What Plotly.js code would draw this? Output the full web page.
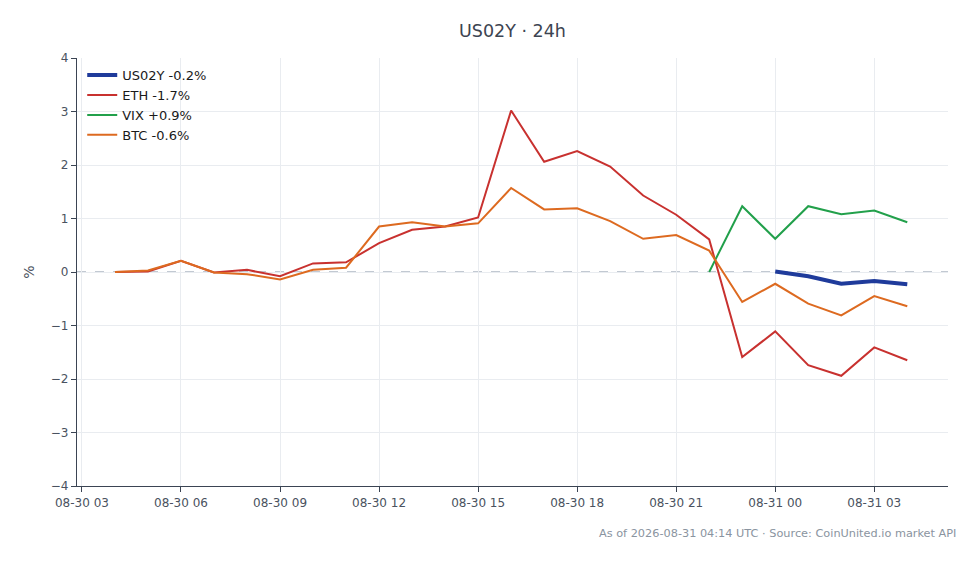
<!DOCTYPE html>
<html>
<head>
<meta charset="utf-8">
<script src="https://cdn.plot.ly/plotly-3.0.1.min.js"></script>
<style>
  html, body { margin: 0; padding: 0; background: #fff; }
  #chart { width: 980px; height: 564px; }
</style>
</head>
<body>
<div id="chart"></div>
<script>
// hourly timestamps, 24h window
const hours = [
  "2026-08-30 04:00", "2026-08-30 05:00", "2026-08-30 06:00", "2026-08-30 07:00",
  "2026-08-30 08:00", "2026-08-30 09:00", "2026-08-30 10:00", "2026-08-30 11:00",
  "2026-08-30 12:00", "2026-08-30 13:00", "2026-08-30 14:00", "2026-08-30 15:00",
  "2026-08-30 16:00", "2026-08-30 17:00", "2026-08-30 18:00", "2026-08-30 19:00",
  "2026-08-30 20:00", "2026-08-30 21:00", "2026-08-30 22:00", "2026-08-30 23:00",
  "2026-08-31 00:00", "2026-08-31 01:00", "2026-08-31 02:00", "2026-08-31 03:00",
  "2026-08-31 04:00",
];

// % change vs start of window
const us02y = [null, null, null, null, null, null, null, null, null, null, null, null,
  null, null, null, null, null, null, null, null, 0.01, -0.08, -0.22, -0.17, -0.23];
const eth = [0.0, 0.01, 0.21, -0.01, 0.04, -0.08, 0.16, 0.18, 0.54, 0.79, 0.85, 1.02,
  3.02, 2.06, 2.26, 1.97, 1.43, 1.07, 0.61, -1.59, -1.11, -1.74, -1.94, -1.41, -1.65];
const vix = [null, null, null, null, null, null, null, null, null, null, null, null,
  null, null, null, null, null, null, 0.0, 1.23, 0.62, 1.23, 1.08, 1.15, 0.93];
const btc = [0.0, 0.03, 0.21, -0.01, -0.04, -0.14, 0.04, 0.08, 0.85, 0.93, 0.85, 0.91,
  1.57, 1.17, 1.19, 0.95, 0.62, 0.69, 0.40, -0.56, -0.22, -0.59, -0.81, -0.45, -0.64];

const seriesNames = ["US02Y -0.2%", "ETH -1.7%", "VIX +0.9%", "BTC -0.6%"];

const mkTrace = (y, name, color, width) => ({
  x: hours,
  y: y,
  name: name,
  type: "scatter",
  mode: "lines",
  connectgaps: false,
  line: { color: color, width: width },
  hoverinfo: "skip",
});

const traces = [
  mkTrace(us02y, seriesNames[0], "#1f3b9b", 4),
  mkTrace(eth, seriesNames[1], "#c8312f", 2),
  mkTrace(vix, seriesNames[2], "#22a04b", 2),
  mkTrace(btc, seriesNames[3], "#dd6a20", 2),
];

const axisColor = "#3b4453";
const gridColor = "#e9ecf0";

const layout = {
  width: 980,
  height: 564,
  paper_bgcolor: "#ffffff",
  plot_bgcolor: "#ffffff",
  margin: { l: 77, r: 32, t: 58, b: 78 },
  font: { family: "DejaVu Sans, sans-serif", size: 12, color: "#4a5260" },
  title: {
    text: "US02Y · 24h",
    font: { size: 17.5, color: "#3d4451" },
    x: 0.5,
    xref: "paper",
    y: 0.945,
    yref: "container",
    yanchor: "middle",
  },
  showlegend: true,
  legend: {
    x: 0.006,
    y: 0.995,
    xanchor: "left",
    yanchor: "top",
    bgcolor: "rgba(255,255,255,0)",
    font: { size: 13, color: "#1a1a1a" },
    tracegroupgap: 0,
  },
  xaxis: {
    type: "date",
    range: ["2026-08-30 02:51", "2026-08-31 05:14"],
    tick0: "2026-08-30 03:00",
    dtick: 3 * 3600 * 1000,
    tickformat: "%m-%d %H",
    showgrid: true,
    gridcolor: gridColor,
    showline: true,
    linecolor: axisColor,
    linewidth: 1.2,
    ticks: "outside",
    ticklen: 5,
    tickcolor: axisColor,
    zeroline: false,
  },
  yaxis: {
    range: [-4, 4],
    dtick: 1,
    showgrid: true,
    gridcolor: gridColor,
    showline: true,
    linecolor: axisColor,
    linewidth: 1.2,
    ticks: "outside",
    ticklen: 5,
    tickcolor: axisColor,
    zeroline: false,
    title: { text: "%", standoff: 12, font: { size: 14, color: "#4a5260" } },
  },
  shapes: [
    {
      type: "line",
      xref: "paper",
      x0: 0,
      x1: 1,
      yref: "y",
      y0: 0,
      y1: 0,
      line: { color: "#8693a6", width: 1.2, dash: "dash" },
      layer: "below",
    },
  ],
  annotations: [
    {
      text: "As of 2026-08-31 04:14 UTC · Source: CoinUnited.io market API",
      xref: "paper",
      yref: "paper",
      x: 1.011,
      y: -0.11,
      xanchor: "right",
      yanchor: "middle",
      showarrow: false,
      font: { size: 11.3, color: "#8a94a0" },
    },
  ],
};

Plotly.newPlot("chart", traces, layout, { displayModeBar: false, staticPlot: true });
</script>
</body>
</html>
